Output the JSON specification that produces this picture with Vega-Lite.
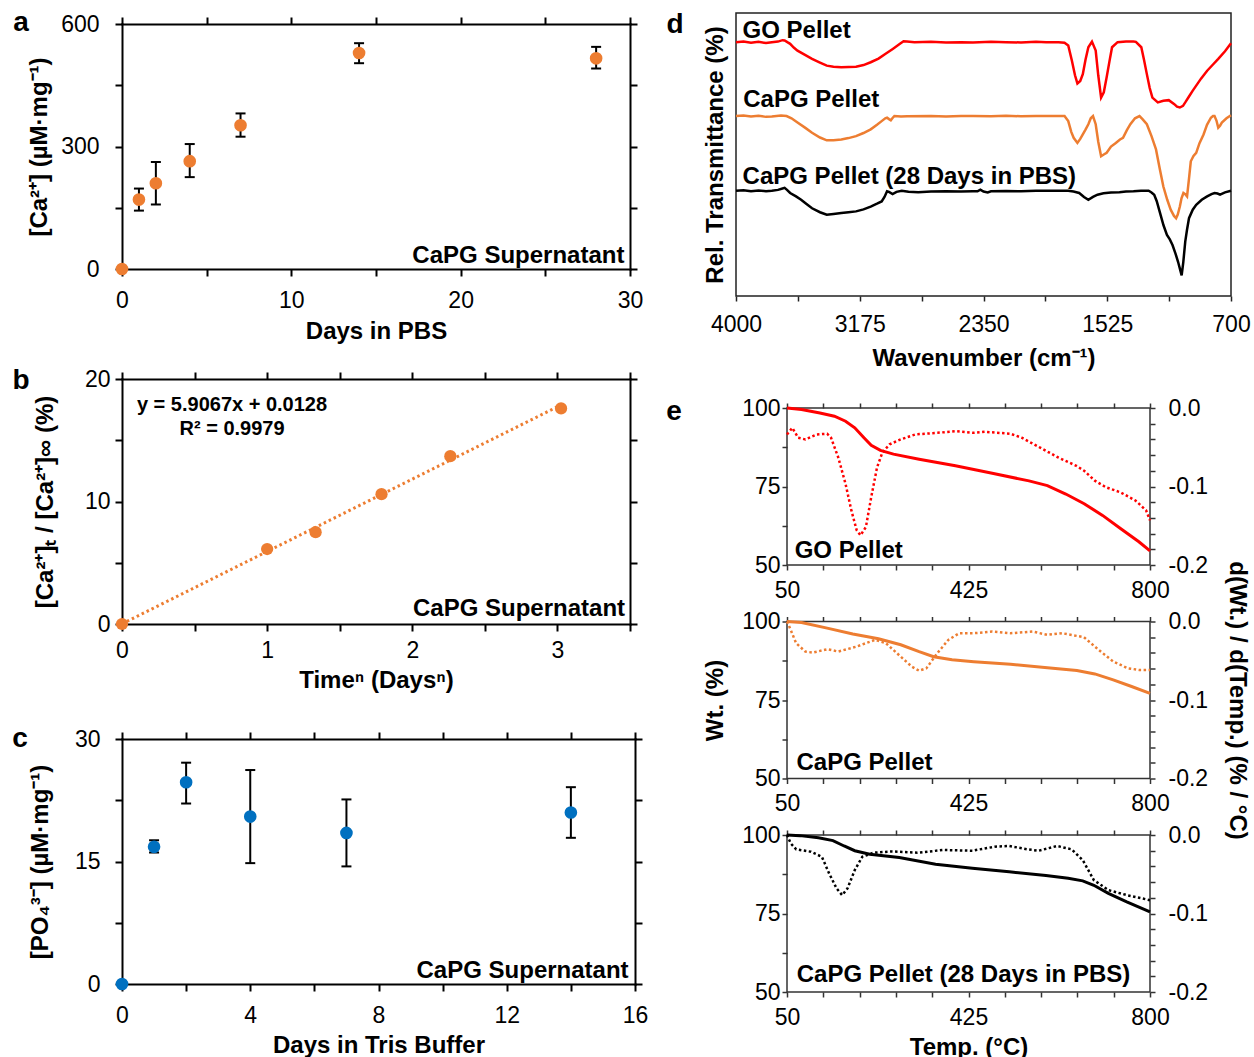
{
  "$schema": "https://vega.github.io/schema/vega-lite/v6.json",
  "padding": {"left": 12, "top": 9, "right": 0, "bottom": 0},
  "background": "white",
  "config": {
    "font": "Liberation Sans",
    "view": {"stroke": null},
    "axis": {
      "labelFont": "Liberation Sans", "labelFontSize": 23, "labelColor": "#000000",
      "titleFont": "Liberation Sans", "titleFontSize": 24, "titleFontWeight": "bold", "titleColor": "#000000",
      "grid": false, "domainColor": "#000000", "domainWidth": 2, "domainCap": "square",
      "tickColor": "#000000", "tickWidth": 2, "tickSize": 7,
      "labelFlush": false, "labelOverlap": false, "labelBound": false
    },
    "text": {"font": "Liberation Sans", "color": "#000000"}
  },
  "datasets": {
    "calcium": [
      {"day": 0, "ca": 0, "lo": null, "hi": null},
      {"day": 1, "ca": 170, "lo": 143, "hi": 197},
      {"day": 2, "ca": 210, "lo": 158, "hi": 262},
      {"day": 4, "ca": 264, "lo": 225, "hi": 306},
      {"day": 7, "ca": 352, "lo": 324, "hi": 381},
      {"day": 14, "ca": 529, "lo": 504, "hi": 553},
      {"day": 28, "ca": 516, "lo": 491, "hi": 544}
    ],
    "release": [
      {"tn": 0, "frac": 0},
      {"tn": 1.0, "frac": 6.12},
      {"tn": 1.334, "frac": 7.5},
      {"tn": 1.788, "frac": 10.6},
      {"tn": 2.262, "frac": 13.7},
      {"tn": 3.025, "frac": 17.6}
    ],
    "releaseFit": [
      {"tn": 0, "frac": 0.0128},
      {"tn": 3.03, "frac": 17.91}
    ],
    "phosphate": [
      {"day": 0, "po4": 0, "lo": null, "hi": null},
      {"day": 1, "po4": 16.8, "lo": 16.1, "hi": 17.6},
      {"day": 2, "po4": 24.7, "lo": 22.1, "hi": 27.1},
      {"day": 4, "po4": 20.5, "lo": 14.8, "hi": 26.2},
      {"day": 7, "po4": 18.5, "lo": 14.4, "hi": 22.6},
      {"day": 14, "po4": 21.0, "lo": 17.9, "hi": 24.1}
    ],
    "ftir": [
      {"sample": "GO Pellet", "wn": 4000, "t": 89.7}, {"sample": "GO Pellet", "wn": 3950, "t": 89.9}, {"sample": "GO Pellet", "wn": 3900, "t": 89.5}, {"sample": "GO Pellet", "wn": 3850, "t": 89.8}, {"sample": "GO Pellet", "wn": 3800, "t": 89.4}, {"sample": "GO Pellet", "wn": 3761, "t": 89.7}, {"sample": "GO Pellet", "wn": 3720, "t": 89.9}, {"sample": "GO Pellet", "wn": 3690, "t": 90.4}, {"sample": "GO Pellet", "wn": 3676, "t": 90.3}, {"sample": "GO Pellet", "wn": 3655, "t": 89.6}, {"sample": "GO Pellet", "wn": 3639, "t": 89.1}, {"sample": "GO Pellet", "wn": 3615, "t": 87.8}, {"sample": "GO Pellet", "wn": 3590, "t": 86.7}, {"sample": "GO Pellet", "wn": 3540, "t": 85.2}, {"sample": "GO Pellet", "wn": 3493, "t": 83.8}, {"sample": "GO Pellet", "wn": 3440, "t": 82.5}, {"sample": "GO Pellet", "wn": 3395, "t": 81.4}, {"sample": "GO Pellet", "wn": 3350, "t": 81.0}, {"sample": "GO Pellet", "wn": 3298, "t": 80.8}, {"sample": "GO Pellet", "wn": 3250, "t": 80.9}, {"sample": "GO Pellet", "wn": 3200, "t": 81.0}, {"sample": "GO Pellet", "wn": 3150, "t": 81.6}, {"sample": "GO Pellet", "wn": 3102, "t": 82.6}, {"sample": "GO Pellet", "wn": 3050, "t": 83.9}, {"sample": "GO Pellet", "wn": 3005, "t": 85.5}, {"sample": "GO Pellet", "wn": 2955, "t": 87.3}, {"sample": "GO Pellet", "wn": 2907, "t": 89.1}, {"sample": "GO Pellet", "wn": 2883, "t": 90.0}, {"sample": "GO Pellet", "wn": 2860, "t": 89.9}, {"sample": "GO Pellet", "wn": 2810, "t": 89.7}, {"sample": "GO Pellet", "wn": 2700, "t": 89.8}, {"sample": "GO Pellet", "wn": 2600, "t": 89.6}, {"sample": "GO Pellet", "wn": 2500, "t": 89.7}, {"sample": "GO Pellet", "wn": 2420, "t": 89.6}, {"sample": "GO Pellet", "wn": 2300, "t": 89.8}, {"sample": "GO Pellet", "wn": 2200, "t": 89.7}, {"sample": "GO Pellet", "wn": 2100, "t": 89.6}, {"sample": "GO Pellet", "wn": 2000, "t": 89.8}, {"sample": "GO Pellet", "wn": 1932, "t": 89.7}, {"sample": "GO Pellet", "wn": 1850, "t": 89.7}, {"sample": "GO Pellet", "wn": 1810, "t": 89.5}, {"sample": "GO Pellet", "wn": 1785, "t": 88.5}, {"sample": "GO Pellet", "wn": 1761, "t": 83.2}, {"sample": "GO Pellet", "wn": 1740, "t": 78.0}, {"sample": "GO Pellet", "wn": 1724, "t": 75.1}, {"sample": "GO Pellet", "wn": 1705, "t": 76.0}, {"sample": "GO Pellet", "wn": 1688, "t": 78.4}, {"sample": "GO Pellet", "wn": 1670, "t": 83.5}, {"sample": "GO Pellet", "wn": 1651, "t": 87.9}, {"sample": "GO Pellet", "wn": 1627, "t": 89.9}, {"sample": "GO Pellet", "wn": 1602, "t": 86.7}, {"sample": "GO Pellet", "wn": 1585, "t": 78.0}, {"sample": "GO Pellet", "wn": 1566, "t": 70.1}, {"sample": "GO Pellet", "wn": 1548, "t": 72.0}, {"sample": "GO Pellet", "wn": 1529, "t": 77.3}, {"sample": "GO Pellet", "wn": 1510, "t": 83.0}, {"sample": "GO Pellet", "wn": 1493, "t": 87.9}, {"sample": "GO Pellet", "wn": 1456, "t": 89.7}, {"sample": "GO Pellet", "wn": 1400, "t": 89.9}, {"sample": "GO Pellet", "wn": 1350, "t": 89.9}, {"sample": "GO Pellet", "wn": 1334, "t": 89.8}, {"sample": "GO Pellet", "wn": 1298, "t": 87.9}, {"sample": "GO Pellet", "wn": 1280, "t": 83.5}, {"sample": "GO Pellet", "wn": 1261, "t": 78.4}, {"sample": "GO Pellet", "wn": 1242, "t": 73.5}, {"sample": "GO Pellet", "wn": 1224, "t": 70.1}, {"sample": "GO Pellet", "wn": 1188, "t": 68.4}, {"sample": "GO Pellet", "wn": 1151, "t": 69.0}, {"sample": "GO Pellet", "wn": 1115, "t": 69.2}, {"sample": "GO Pellet", "wn": 1078, "t": 67.8}, {"sample": "GO Pellet", "wn": 1060, "t": 66.9}, {"sample": "GO Pellet", "wn": 1041, "t": 66.6}, {"sample": "GO Pellet", "wn": 1020, "t": 67.2}, {"sample": "GO Pellet", "wn": 1005, "t": 68.4}, {"sample": "GO Pellet", "wn": 980, "t": 70.5}, {"sample": "GO Pellet", "wn": 956, "t": 72.5}, {"sample": "GO Pellet", "wn": 900, "t": 76.8}, {"sample": "GO Pellet", "wn": 859, "t": 79.6}, {"sample": "GO Pellet", "wn": 820, "t": 81.8}, {"sample": "GO Pellet", "wn": 785, "t": 83.8}, {"sample": "GO Pellet", "wn": 740, "t": 86.5}, {"sample": "GO Pellet", "wn": 700, "t": 89.3},
      {"sample": "CaPG Pellet", "wn": 4000, "t": 63.6}, {"sample": "CaPG Pellet", "wn": 3950, "t": 63.8}, {"sample": "CaPG Pellet", "wn": 3900, "t": 63.4}, {"sample": "CaPG Pellet", "wn": 3850, "t": 63.7}, {"sample": "CaPG Pellet", "wn": 3800, "t": 63.3}, {"sample": "CaPG Pellet", "wn": 3761, "t": 63.4}, {"sample": "CaPG Pellet", "wn": 3700, "t": 63.8}, {"sample": "CaPG Pellet", "wn": 3663, "t": 63.6}, {"sample": "CaPG Pellet", "wn": 3630, "t": 62.8}, {"sample": "CaPG Pellet", "wn": 3590, "t": 61.3}, {"sample": "CaPG Pellet", "wn": 3540, "t": 59.5}, {"sample": "CaPG Pellet", "wn": 3493, "t": 57.7}, {"sample": "CaPG Pellet", "wn": 3440, "t": 56.0}, {"sample": "CaPG Pellet", "wn": 3395, "t": 55.0}, {"sample": "CaPG Pellet", "wn": 3350, "t": 55.0}, {"sample": "CaPG Pellet", "wn": 3298, "t": 55.3}, {"sample": "CaPG Pellet", "wn": 3250, "t": 55.8}, {"sample": "CaPG Pellet", "wn": 3200, "t": 56.5}, {"sample": "CaPG Pellet", "wn": 3150, "t": 57.6}, {"sample": "CaPG Pellet", "wn": 3102, "t": 58.9}, {"sample": "CaPG Pellet", "wn": 3060, "t": 60.5}, {"sample": "CaPG Pellet", "wn": 3029, "t": 61.8}, {"sample": "CaPG Pellet", "wn": 3005, "t": 62.8}, {"sample": "CaPG Pellet", "wn": 2993, "t": 63.0}, {"sample": "CaPG Pellet", "wn": 2980, "t": 62.5}, {"sample": "CaPG Pellet", "wn": 2968, "t": 62.1}, {"sample": "CaPG Pellet", "wn": 2955, "t": 63.0}, {"sample": "CaPG Pellet", "wn": 2944, "t": 63.6}, {"sample": "CaPG Pellet", "wn": 2900, "t": 63.4}, {"sample": "CaPG Pellet", "wn": 2859, "t": 63.5}, {"sample": "CaPG Pellet", "wn": 2700, "t": 63.6}, {"sample": "CaPG Pellet", "wn": 2600, "t": 63.4}, {"sample": "CaPG Pellet", "wn": 2500, "t": 63.6}, {"sample": "CaPG Pellet", "wn": 2420, "t": 63.6}, {"sample": "CaPG Pellet", "wn": 2300, "t": 63.5}, {"sample": "CaPG Pellet", "wn": 2200, "t": 63.7}, {"sample": "CaPG Pellet", "wn": 2100, "t": 63.5}, {"sample": "CaPG Pellet", "wn": 2000, "t": 63.6}, {"sample": "CaPG Pellet", "wn": 1900, "t": 63.6}, {"sample": "CaPG Pellet", "wn": 1810, "t": 63.6}, {"sample": "CaPG Pellet", "wn": 1785, "t": 61.8}, {"sample": "CaPG Pellet", "wn": 1765, "t": 58.0}, {"sample": "CaPG Pellet", "wn": 1749, "t": 55.9}, {"sample": "CaPG Pellet", "wn": 1724, "t": 54.1}, {"sample": "CaPG Pellet", "wn": 1705, "t": 55.5}, {"sample": "CaPG Pellet", "wn": 1688, "t": 57.1}, {"sample": "CaPG Pellet", "wn": 1670, "t": 58.8}, {"sample": "CaPG Pellet", "wn": 1651, "t": 60.7}, {"sample": "CaPG Pellet", "wn": 1635, "t": 62.8}, {"sample": "CaPG Pellet", "wn": 1620, "t": 63.6}, {"sample": "CaPG Pellet", "wn": 1602, "t": 60.7}, {"sample": "CaPG Pellet", "wn": 1585, "t": 54.5}, {"sample": "CaPG Pellet", "wn": 1566, "t": 49.4}, {"sample": "CaPG Pellet", "wn": 1548, "t": 50.0}, {"sample": "CaPG Pellet", "wn": 1529, "t": 50.6}, {"sample": "CaPG Pellet", "wn": 1500, "t": 52.8}, {"sample": "CaPG Pellet", "wn": 1468, "t": 54.1}, {"sample": "CaPG Pellet", "wn": 1440, "t": 55.3}, {"sample": "CaPG Pellet", "wn": 1420, "t": 55.9}, {"sample": "CaPG Pellet", "wn": 1395, "t": 58.5}, {"sample": "CaPG Pellet", "wn": 1371, "t": 60.7}, {"sample": "CaPG Pellet", "wn": 1340, "t": 62.8}, {"sample": "CaPG Pellet", "wn": 1310, "t": 63.6}, {"sample": "CaPG Pellet", "wn": 1290, "t": 62.5}, {"sample": "CaPG Pellet", "wn": 1261, "t": 60.7}, {"sample": "CaPG Pellet", "wn": 1230, "t": 56.5}, {"sample": "CaPG Pellet", "wn": 1200, "t": 51.8}, {"sample": "CaPG Pellet", "wn": 1175, "t": 45.0}, {"sample": "CaPG Pellet", "wn": 1151, "t": 38.7}, {"sample": "CaPG Pellet", "wn": 1125, "t": 34.0}, {"sample": "CaPG Pellet", "wn": 1102, "t": 30.5}, {"sample": "CaPG Pellet", "wn": 1080, "t": 28.3}, {"sample": "CaPG Pellet", "wn": 1066, "t": 27.5}, {"sample": "CaPG Pellet", "wn": 1055, "t": 28.8}, {"sample": "CaPG Pellet", "wn": 1041, "t": 31.6}, {"sample": "CaPG Pellet", "wn": 1030, "t": 34.5}, {"sample": "CaPG Pellet", "wn": 1017, "t": 36.4}, {"sample": "CaPG Pellet", "wn": 1005, "t": 36.0}, {"sample": "CaPG Pellet", "wn": 993, "t": 35.2}, {"sample": "CaPG Pellet", "wn": 980, "t": 41.5}, {"sample": "CaPG Pellet", "wn": 968, "t": 47.6}, {"sample": "CaPG Pellet", "wn": 950, "t": 49.5}, {"sample": "CaPG Pellet", "wn": 932, "t": 50.6}, {"sample": "CaPG Pellet", "wn": 910, "t": 54.0}, {"sample": "CaPG Pellet", "wn": 883, "t": 57.1}, {"sample": "CaPG Pellet", "wn": 860, "t": 60.5}, {"sample": "CaPG Pellet", "wn": 834, "t": 63.0}, {"sample": "CaPG Pellet", "wn": 820, "t": 63.6}, {"sample": "CaPG Pellet", "wn": 810, "t": 63.6}, {"sample": "CaPG Pellet", "wn": 797, "t": 62.0}, {"sample": "CaPG Pellet", "wn": 785, "t": 59.5}, {"sample": "CaPG Pellet", "wn": 773, "t": 60.2}, {"sample": "CaPG Pellet", "wn": 761, "t": 61.3}, {"sample": "CaPG Pellet", "wn": 730, "t": 62.8}, {"sample": "CaPG Pellet", "wn": 700, "t": 63.9},
      {"sample": "CaPG Pellet (28 Days in PBS)", "wn": 4000, "t": 37.2}, {"sample": "CaPG Pellet (28 Days in PBS)", "wn": 3950, "t": 37.4}, {"sample": "CaPG Pellet (28 Days in PBS)", "wn": 3900, "t": 37.0}, {"sample": "CaPG Pellet (28 Days in PBS)", "wn": 3850, "t": 37.3}, {"sample": "CaPG Pellet (28 Days in PBS)", "wn": 3800, "t": 37.0}, {"sample": "CaPG Pellet (28 Days in PBS)", "wn": 3761, "t": 37.2}, {"sample": "CaPG Pellet (28 Days in PBS)", "wn": 3720, "t": 37.5}, {"sample": "CaPG Pellet (28 Days in PBS)", "wn": 3690, "t": 38.0}, {"sample": "CaPG Pellet (28 Days in PBS)", "wn": 3676, "t": 38.2}, {"sample": "CaPG Pellet (28 Days in PBS)", "wn": 3660, "t": 37.5}, {"sample": "CaPG Pellet (28 Days in PBS)", "wn": 3639, "t": 36.4}, {"sample": "CaPG Pellet (28 Days in PBS)", "wn": 3600, "t": 35.2}, {"sample": "CaPG Pellet (28 Days in PBS)", "wn": 3566, "t": 34.0}, {"sample": "CaPG Pellet (28 Days in PBS)", "wn": 3530, "t": 32.5}, {"sample": "CaPG Pellet (28 Days in PBS)", "wn": 3493, "t": 31.0}, {"sample": "CaPG Pellet (28 Days in PBS)", "wn": 3440, "t": 29.6}, {"sample": "CaPG Pellet (28 Days in PBS)", "wn": 3395, "t": 28.7}, {"sample": "CaPG Pellet (28 Days in PBS)", "wn": 3350, "t": 29.0}, {"sample": "CaPG Pellet (28 Days in PBS)", "wn": 3298, "t": 29.3}, {"sample": "CaPG Pellet (28 Days in PBS)", "wn": 3250, "t": 29.6}, {"sample": "CaPG Pellet (28 Days in PBS)", "wn": 3200, "t": 29.9}, {"sample": "CaPG Pellet (28 Days in PBS)", "wn": 3150, "t": 30.6}, {"sample": "CaPG Pellet (28 Days in PBS)", "wn": 3102, "t": 31.6}, {"sample": "CaPG Pellet (28 Days in PBS)", "wn": 3060, "t": 32.6}, {"sample": "CaPG Pellet (28 Days in PBS)", "wn": 3029, "t": 33.4}, {"sample": "CaPG Pellet (28 Days in PBS)", "wn": 3010, "t": 35.0}, {"sample": "CaPG Pellet (28 Days in PBS)", "wn": 2993, "t": 37.0}, {"sample": "CaPG Pellet (28 Days in PBS)", "wn": 2980, "t": 36.8}, {"sample": "CaPG Pellet (28 Days in PBS)", "wn": 2956, "t": 36.0}, {"sample": "CaPG Pellet (28 Days in PBS)", "wn": 2930, "t": 36.8}, {"sample": "CaPG Pellet (28 Days in PBS)", "wn": 2895, "t": 37.2}, {"sample": "CaPG Pellet (28 Days in PBS)", "wn": 2850, "t": 36.8}, {"sample": "CaPG Pellet (28 Days in PBS)", "wn": 2785, "t": 36.7}, {"sample": "CaPG Pellet (28 Days in PBS)", "wn": 2700, "t": 36.9}, {"sample": "CaPG Pellet (28 Days in PBS)", "wn": 2600, "t": 37.0}, {"sample": "CaPG Pellet (28 Days in PBS)", "wn": 2500, "t": 36.9}, {"sample": "CaPG Pellet (28 Days in PBS)", "wn": 2420, "t": 37.0}, {"sample": "CaPG Pellet (28 Days in PBS)", "wn": 2390, "t": 37.0}, {"sample": "CaPG Pellet (28 Days in PBS)", "wn": 2371, "t": 37.6}, {"sample": "CaPG Pellet (28 Days in PBS)", "wn": 2350, "t": 36.9}, {"sample": "CaPG Pellet (28 Days in PBS)", "wn": 2322, "t": 36.6}, {"sample": "CaPG Pellet (28 Days in PBS)", "wn": 2300, "t": 37.0}, {"sample": "CaPG Pellet (28 Days in PBS)", "wn": 2200, "t": 37.1}, {"sample": "CaPG Pellet (28 Days in PBS)", "wn": 2100, "t": 37.0}, {"sample": "CaPG Pellet (28 Days in PBS)", "wn": 2000, "t": 37.2}, {"sample": "CaPG Pellet (28 Days in PBS)", "wn": 1900, "t": 37.2}, {"sample": "CaPG Pellet (28 Days in PBS)", "wn": 1785, "t": 37.2}, {"sample": "CaPG Pellet (28 Days in PBS)", "wn": 1750, "t": 36.9}, {"sample": "CaPG Pellet (28 Days in PBS)", "wn": 1712, "t": 36.4}, {"sample": "CaPG Pellet (28 Days in PBS)", "wn": 1680, "t": 35.0}, {"sample": "CaPG Pellet (28 Days in PBS)", "wn": 1651, "t": 34.0}, {"sample": "CaPG Pellet (28 Days in PBS)", "wn": 1620, "t": 35.0}, {"sample": "CaPG Pellet (28 Days in PBS)", "wn": 1590, "t": 35.8}, {"sample": "CaPG Pellet (28 Days in PBS)", "wn": 1550, "t": 36.3}, {"sample": "CaPG Pellet (28 Days in PBS)", "wn": 1500, "t": 36.6}, {"sample": "CaPG Pellet (28 Days in PBS)", "wn": 1444, "t": 36.7}, {"sample": "CaPG Pellet (28 Days in PBS)", "wn": 1400, "t": 36.9}, {"sample": "CaPG Pellet (28 Days in PBS)", "wn": 1350, "t": 37.0}, {"sample": "CaPG Pellet (28 Days in PBS)", "wn": 1300, "t": 37.2}, {"sample": "CaPG Pellet (28 Days in PBS)", "wn": 1249, "t": 37.2}, {"sample": "CaPG Pellet (28 Days in PBS)", "wn": 1230, "t": 36.6}, {"sample": "CaPG Pellet (28 Days in PBS)", "wn": 1212, "t": 35.8}, {"sample": "CaPG Pellet (28 Days in PBS)", "wn": 1195, "t": 33.5}, {"sample": "CaPG Pellet (28 Days in PBS)", "wn": 1176, "t": 29.9}, {"sample": "CaPG Pellet (28 Days in PBS)", "wn": 1150, "t": 25.0}, {"sample": "CaPG Pellet (28 Days in PBS)", "wn": 1127, "t": 21.6}, {"sample": "CaPG Pellet (28 Days in PBS)", "wn": 1108, "t": 20.0}, {"sample": "CaPG Pellet (28 Days in PBS)", "wn": 1090, "t": 18.0}, {"sample": "CaPG Pellet (28 Days in PBS)", "wn": 1070, "t": 15.0}, {"sample": "CaPG Pellet (28 Days in PBS)", "wn": 1053, "t": 12.1}, {"sample": "CaPG Pellet (28 Days in PBS)", "wn": 1040, "t": 9.5}, {"sample": "CaPG Pellet (28 Days in PBS)", "wn": 1029, "t": 7.3}, {"sample": "CaPG Pellet (28 Days in PBS)", "wn": 1018, "t": 12.0}, {"sample": "CaPG Pellet (28 Days in PBS)", "wn": 1005, "t": 19.2}, {"sample": "CaPG Pellet (28 Days in PBS)", "wn": 993, "t": 23.5}, {"sample": "CaPG Pellet (28 Days in PBS)", "wn": 980, "t": 27.5}, {"sample": "CaPG Pellet (28 Days in PBS)", "wn": 955, "t": 30.5}, {"sample": "CaPG Pellet (28 Days in PBS)", "wn": 932, "t": 32.2}, {"sample": "CaPG Pellet (28 Days in PBS)", "wn": 895, "t": 34.0}, {"sample": "CaPG Pellet (28 Days in PBS)", "wn": 859, "t": 35.2}, {"sample": "CaPG Pellet (28 Days in PBS)", "wn": 830, "t": 36.0}, {"sample": "CaPG Pellet (28 Days in PBS)", "wn": 810, "t": 36.4}, {"sample": "CaPG Pellet (28 Days in PBS)", "wn": 790, "t": 36.2}, {"sample": "CaPG Pellet (28 Days in PBS)", "wn": 773, "t": 35.8}, {"sample": "CaPG Pellet (28 Days in PBS)", "wn": 740, "t": 36.6}, {"sample": "CaPG Pellet (28 Days in PBS)", "wn": 700, "t": 37.2}
    ],
    "tgaWt": [
      {"sample": "GO Pellet", "temp": 50, "wt": 100}, {"sample": "GO Pellet", "temp": 80, "wt": 99.5}, {"sample": "GO Pellet", "temp": 118, "wt": 98.4}, {"sample": "GO Pellet", "temp": 148, "wt": 97.4}, {"sample": "GO Pellet", "temp": 171, "wt": 95.8}, {"sample": "GO Pellet", "temp": 190, "wt": 93.7}, {"sample": "GO Pellet", "temp": 209, "wt": 90.5}, {"sample": "GO Pellet", "temp": 224, "wt": 88.1}, {"sample": "GO Pellet", "temp": 243, "wt": 86.5}, {"sample": "GO Pellet", "temp": 270, "wt": 85.3}, {"sample": "GO Pellet", "temp": 323, "wt": 83.7}, {"sample": "GO Pellet", "temp": 398, "wt": 81.6}, {"sample": "GO Pellet", "temp": 474, "wt": 79.2}, {"sample": "GO Pellet", "temp": 550, "wt": 76.8}, {"sample": "GO Pellet", "temp": 588, "wt": 75.3}, {"sample": "GO Pellet", "temp": 626, "wt": 72.6}, {"sample": "GO Pellet", "temp": 664, "wt": 69.5}, {"sample": "GO Pellet", "temp": 702, "wt": 65.8}, {"sample": "GO Pellet", "temp": 739, "wt": 61.6}, {"sample": "GO Pellet", "temp": 777, "wt": 57.4}, {"sample": "GO Pellet", "temp": 800, "wt": 54.5},
      {"sample": "CaPG Pellet", "temp": 50, "wt": 100}, {"sample": "CaPG Pellet", "temp": 80, "wt": 99.7}, {"sample": "CaPG Pellet", "temp": 133, "wt": 97.9}, {"sample": "CaPG Pellet", "temp": 186, "wt": 96.0}, {"sample": "CaPG Pellet", "temp": 239, "wt": 94.5}, {"sample": "CaPG Pellet", "temp": 285, "wt": 92.6}, {"sample": "CaPG Pellet", "temp": 323, "wt": 90.4}, {"sample": "CaPG Pellet", "temp": 353, "wt": 88.8}, {"sample": "CaPG Pellet", "temp": 391, "wt": 87.8}, {"sample": "CaPG Pellet", "temp": 436, "wt": 87.2}, {"sample": "CaPG Pellet", "temp": 512, "wt": 86.4}, {"sample": "CaPG Pellet", "temp": 588, "wt": 85.3}, {"sample": "CaPG Pellet", "temp": 649, "wt": 84.4}, {"sample": "CaPG Pellet", "temp": 686, "wt": 83.3}, {"sample": "CaPG Pellet", "temp": 724, "wt": 81.4}, {"sample": "CaPG Pellet", "temp": 762, "wt": 79.3}, {"sample": "CaPG Pellet", "temp": 800, "wt": 77.1},
      {"sample": "CaPG Pellet (28 Days in PBS)", "temp": 50, "wt": 100}, {"sample": "CaPG Pellet (28 Days in PBS)", "temp": 77, "wt": 99.8}, {"sample": "CaPG Pellet (28 Days in PBS)", "temp": 115, "wt": 99.1}, {"sample": "CaPG Pellet (28 Days in PBS)", "temp": 145, "wt": 98.2}, {"sample": "CaPG Pellet (28 Days in PBS)", "temp": 168, "wt": 96.5}, {"sample": "CaPG Pellet (28 Days in PBS)", "temp": 190, "wt": 95.0}, {"sample": "CaPG Pellet (28 Days in PBS)", "temp": 221, "wt": 93.9}, {"sample": "CaPG Pellet (28 Days in PBS)", "temp": 282, "wt": 92.8}, {"sample": "CaPG Pellet (28 Days in PBS)", "temp": 357, "wt": 90.7}, {"sample": "CaPG Pellet (28 Days in PBS)", "temp": 433, "wt": 89.4}, {"sample": "CaPG Pellet (28 Days in PBS)", "temp": 509, "wt": 88.3}, {"sample": "CaPG Pellet (28 Days in PBS)", "temp": 585, "wt": 87.1}, {"sample": "CaPG Pellet (28 Days in PBS)", "temp": 631, "wt": 86.2}, {"sample": "CaPG Pellet (28 Days in PBS)", "temp": 661, "wt": 85.4}, {"sample": "CaPG Pellet (28 Days in PBS)", "temp": 684, "wt": 84.0}, {"sample": "CaPG Pellet (28 Days in PBS)", "temp": 714, "wt": 81.4}, {"sample": "CaPG Pellet (28 Days in PBS)", "temp": 752, "wt": 78.7}, {"sample": "CaPG Pellet (28 Days in PBS)", "temp": 800, "wt": 75.5}
    ],
    "tgaDeriv": [
      {"sample": "GO Pellet", "temp": 50, "dw": -0.0337}, {"sample": "GO Pellet", "temp": 61, "dw": -0.0253}, {"sample": "GO Pellet", "temp": 73, "dw": -0.0379}, {"sample": "GO Pellet", "temp": 88, "dw": -0.04}, {"sample": "GO Pellet", "temp": 111, "dw": -0.0337}, {"sample": "GO Pellet", "temp": 133, "dw": -0.0328}, {"sample": "GO Pellet", "temp": 141, "dw": -0.0379}, {"sample": "GO Pellet", "temp": 156, "dw": -0.0632}, {"sample": "GO Pellet", "temp": 171, "dw": -0.0968}, {"sample": "GO Pellet", "temp": 183, "dw": -0.1305}, {"sample": "GO Pellet", "temp": 194, "dw": -0.1558}, {"sample": "GO Pellet", "temp": 202, "dw": -0.1621}, {"sample": "GO Pellet", "temp": 213, "dw": -0.1516}, {"sample": "GO Pellet", "temp": 224, "dw": -0.1137}, {"sample": "GO Pellet", "temp": 236, "dw": -0.0758}, {"sample": "GO Pellet", "temp": 247, "dw": -0.0568}, {"sample": "GO Pellet", "temp": 262, "dw": -0.0463}, {"sample": "GO Pellet", "temp": 285, "dw": -0.04}, {"sample": "GO Pellet", "temp": 315, "dw": -0.0337}, {"sample": "GO Pellet", "temp": 361, "dw": -0.0316}, {"sample": "GO Pellet", "temp": 398, "dw": -0.0295}, {"sample": "GO Pellet", "temp": 436, "dw": -0.0316}, {"sample": "GO Pellet", "temp": 459, "dw": -0.0303}, {"sample": "GO Pellet", "temp": 512, "dw": -0.0328}, {"sample": "GO Pellet", "temp": 535, "dw": -0.0379}, {"sample": "GO Pellet", "temp": 573, "dw": -0.0505}, {"sample": "GO Pellet", "temp": 611, "dw": -0.0632}, {"sample": "GO Pellet", "temp": 648, "dw": -0.0737}, {"sample": "GO Pellet", "temp": 664, "dw": -0.08}, {"sample": "GO Pellet", "temp": 686, "dw": -0.0926}, {"sample": "GO Pellet", "temp": 709, "dw": -0.101}, {"sample": "GO Pellet", "temp": 739, "dw": -0.1074}, {"sample": "GO Pellet", "temp": 770, "dw": -0.1179}, {"sample": "GO Pellet", "temp": 792, "dw": -0.1305}, {"sample": "GO Pellet", "temp": 800, "dw": -0.1432},
      {"sample": "CaPG Pellet", "temp": 50, "dw": 0}, {"sample": "CaPG Pellet", "temp": 57.6, "dw": -0.0106}, {"sample": "CaPG Pellet", "temp": 68.9, "dw": -0.0277}, {"sample": "CaPG Pellet", "temp": 87.9, "dw": -0.0383}, {"sample": "CaPG Pellet", "temp": 103, "dw": -0.0396}, {"sample": "CaPG Pellet", "temp": 133.3, "dw": -0.0353}, {"sample": "CaPG Pellet", "temp": 156, "dw": -0.0383}, {"sample": "CaPG Pellet", "temp": 194, "dw": -0.0319}, {"sample": "CaPG Pellet", "temp": 231.8, "dw": -0.0234}, {"sample": "CaPG Pellet", "temp": 254.5, "dw": -0.0277}, {"sample": "CaPG Pellet", "temp": 284.9, "dw": -0.0447}, {"sample": "CaPG Pellet", "temp": 307.6, "dw": -0.0574}, {"sample": "CaPG Pellet", "temp": 322.7, "dw": -0.0626}, {"sample": "CaPG Pellet", "temp": 337.9, "dw": -0.0596}, {"sample": "CaPG Pellet", "temp": 360.6, "dw": -0.0404}, {"sample": "CaPG Pellet", "temp": 383.3, "dw": -0.0234}, {"sample": "CaPG Pellet", "temp": 406, "dw": -0.0149}, {"sample": "CaPG Pellet", "temp": 436.4, "dw": -0.0149}, {"sample": "CaPG Pellet", "temp": 474.2, "dw": -0.0128}, {"sample": "CaPG Pellet", "temp": 512.1, "dw": -0.0149}, {"sample": "CaPG Pellet", "temp": 557.6, "dw": -0.0128}, {"sample": "CaPG Pellet", "temp": 587.9, "dw": -0.017}, {"sample": "CaPG Pellet", "temp": 618.2, "dw": -0.0149}, {"sample": "CaPG Pellet", "temp": 663.6, "dw": -0.02}, {"sample": "CaPG Pellet", "temp": 694, "dw": -0.0362}, {"sample": "CaPG Pellet", "temp": 724.3, "dw": -0.0511}, {"sample": "CaPG Pellet", "temp": 754.5, "dw": -0.0596}, {"sample": "CaPG Pellet", "temp": 777.3, "dw": -0.0617}, {"sample": "CaPG Pellet", "temp": 800, "dw": -0.0617},
      {"sample": "CaPG Pellet (28 Days in PBS)", "temp": 50, "dw": 0}, {"sample": "CaPG Pellet (28 Days in PBS)", "temp": 57.6, "dw": -0.0106}, {"sample": "CaPG Pellet (28 Days in PBS)", "temp": 69, "dw": -0.0183}, {"sample": "CaPG Pellet (28 Days in PBS)", "temp": 99.3, "dw": -0.0213}, {"sample": "CaPG Pellet (28 Days in PBS)", "temp": 122, "dw": -0.0277}, {"sample": "CaPG Pellet (28 Days in PBS)", "temp": 137, "dw": -0.0489}, {"sample": "CaPG Pellet (28 Days in PBS)", "temp": 152.5, "dw": -0.0681}, {"sample": "CaPG Pellet (28 Days in PBS)", "temp": 164, "dw": -0.0766}, {"sample": "CaPG Pellet (28 Days in PBS)", "temp": 175, "dw": -0.0681}, {"sample": "CaPG Pellet (28 Days in PBS)", "temp": 190, "dw": -0.0447}, {"sample": "CaPG Pellet (28 Days in PBS)", "temp": 205.6, "dw": -0.0277}, {"sample": "CaPG Pellet (28 Days in PBS)", "temp": 228.4, "dw": -0.0226}, {"sample": "CaPG Pellet (28 Days in PBS)", "temp": 266, "dw": -0.0209}, {"sample": "CaPG Pellet (28 Days in PBS)", "temp": 319.5, "dw": -0.0226}, {"sample": "CaPG Pellet (28 Days in PBS)", "temp": 372.6, "dw": -0.0191}, {"sample": "CaPG Pellet (28 Days in PBS)", "temp": 433.3, "dw": -0.02}, {"sample": "CaPG Pellet (28 Days in PBS)", "temp": 478.9, "dw": -0.0149}, {"sample": "CaPG Pellet (28 Days in PBS)", "temp": 509.3, "dw": -0.014}, {"sample": "CaPG Pellet (28 Days in PBS)", "temp": 547.2, "dw": -0.0183}, {"sample": "CaPG Pellet (28 Days in PBS)", "temp": 570, "dw": -0.02}, {"sample": "CaPG Pellet (28 Days in PBS)", "temp": 608, "dw": -0.014}, {"sample": "CaPG Pellet (28 Days in PBS)", "temp": 638.3, "dw": -0.0183}, {"sample": "CaPG Pellet (28 Days in PBS)", "temp": 661, "dw": -0.0319}, {"sample": "CaPG Pellet (28 Days in PBS)", "temp": 683.9, "dw": -0.0574}, {"sample": "CaPG Pellet (28 Days in PBS)", "temp": 714.2, "dw": -0.0702}, {"sample": "CaPG Pellet (28 Days in PBS)", "temp": 752.2, "dw": -0.0766}, {"sample": "CaPG Pellet (28 Days in PBS)", "temp": 800, "dw": -0.083}
    ]
  },
  "hconcat": [
    {
      "vconcat": [
        {"width": 1, "height": 1, "data": {"values": []}, "mark": "point"},
        {
          "vconcat": [
            {
              "width": 508, "height": 245,
              "data": {"name": "calcium"},
              "layer": [
                {
                  "mark": {"type": "point", "opacity": 0},
                  "encoding": {
                    "x": {"field": "day", "type": "quantitative", "scale": {"domain": [0, 30], "nice": false}, "axis": {"orient": "top", "values": [0, 5, 10, 15, 20, 25, 30], "labels": false, "title": null}},
                    "y": {"field": "ca", "type": "quantitative", "scale": {"domain": [0, 600], "nice": false}, "axis": {"orient": "right", "values": [0, 150, 300, 450, 600], "labels": false, "title": null}}
                  }
                },
                {
                  "transform": [{"filter": "isValid(datum.lo)"}],
                  "mark": {"type": "rule", "color": "#000000", "strokeWidth": 2},
                  "encoding": {
                    "x": {"field": "day", "type": "quantitative", "scale": {"domain": [0, 30], "nice": false}, "axis": null},
                    "y": {"field": "lo", "type": "quantitative", "scale": {"domain": [0, 600], "nice": false}, "axis": null},
                    "y2": {"field": "hi"}
                  }
                },
                {
                  "transform": [{"filter": "isValid(datum.lo)"}],
                  "mark": {"type": "tick", "orient": "horizontal", "size": 10, "thickness": 2, "color": "#000000", "opacity": 1},
                  "encoding": {
                    "x": {"field": "day", "type": "quantitative", "scale": {"domain": [0, 30], "nice": false}, "axis": null},
                    "y": {"field": "lo", "type": "quantitative", "scale": {"domain": [0, 600], "nice": false}, "axis": null}
                  }
                },
                {
                  "transform": [{"filter": "isValid(datum.hi)"}],
                  "mark": {"type": "tick", "orient": "horizontal", "size": 10, "thickness": 2, "color": "#000000", "opacity": 1},
                  "encoding": {
                    "x": {"field": "day", "type": "quantitative", "scale": {"domain": [0, 30], "nice": false}, "axis": null},
                    "y": {"field": "hi", "type": "quantitative", "scale": {"domain": [0, 600], "nice": false}, "axis": null}
                  }
                },
                {
                  "mark": {"type": "circle", "size": 160, "color": "#ED7D31", "opacity": 1},
                  "encoding": {
                    "x": {"field": "day", "type": "quantitative", "scale": {"domain": [0, 30], "nice": false}, "axis": {"orient": "bottom", "values": [0, 5, 10, 15, 20, 25, 30], "labelExpr": "datum.value % 10 === 0 ? datum.label : ''", "labelPadding": 13, "title": "Days in PBS", "titlePadding": 7}},
                    "y": {"field": "ca", "type": "quantitative", "scale": {"domain": [0, 600], "nice": false}, "axis": {"orient": "left", "values": [0, 150, 300, 450, 600], "labelExpr": "datum.value % 300 === 0 ? datum.label : ''", "labelPadding": 16, "title": "[Ca²⁺] (µM·mg⁻¹)", "titlePadding": 9}}
                  }
                },
                {
                  "data": {"values": [{}]},
                  "mark": {"type": "text", "align": "right", "baseline": "middle", "fontSize": 24, "fontWeight": "bold"},
                  "encoding": {
                    "x": {"datum": 29.67, "type": "quantitative", "scale": {"domain": [0, 30], "nice": false}, "axis": null},
                    "y": {"datum": 30.9, "type": "quantitative", "scale": {"domain": [0, 600], "nice": false}, "axis": null},
                    "text": {"value": "CaPG Supernatant"}
                  }
                },
                {
                  "data": {"values": [{}]},
                  "mark": {"type": "text", "align": "center", "baseline": "middle", "fontSize": 28, "fontWeight": "bold"},
                  "encoding": {
                    "x": {"datum": -5.96, "type": "quantitative", "scale": {"domain": [0, 30], "nice": false}, "axis": null},
                    "y": {"datum": 602, "type": "quantitative", "scale": {"domain": [0, 600], "nice": false}, "axis": null},
                    "text": {"value": "a"}
                  }
                }
              ],
              "resolve": {"axis": {"x": "independent", "y": "independent"}}
            },
            {
              "vconcat": [
                {
                  "width": 508, "height": 245,
                  "data": {"name": "release"},
                  "layer": [
                    {
                      "mark": {"type": "point", "opacity": 0},
                      "encoding": {
                        "x": {"field": "tn", "type": "quantitative", "scale": {"domain": [0, 3.5], "nice": false}, "axis": {"orient": "top", "values": [0, 0.5, 1, 1.5, 2, 2.5, 3, 3.5], "labels": false, "title": null}},
                        "y": {"field": "frac", "type": "quantitative", "scale": {"domain": [0, 20], "nice": false}, "axis": {"orient": "right", "values": [0, 5, 10, 15, 20], "labels": false, "title": null}}
                      }
                    },
                    {
                      "data": {"name": "releaseFit"},
                      "mark": {"type": "line", "color": "#ED7D31", "strokeWidth": 3, "strokeDash": [2.5, 3]},
                      "encoding": {
                        "x": {"field": "tn", "type": "quantitative", "scale": {"domain": [0, 3.5], "nice": false}, "axis": null},
                        "y": {"field": "frac", "type": "quantitative", "scale": {"domain": [0, 20], "nice": false}, "axis": null}
                      }
                    },
                    {
                      "mark": {"type": "circle", "size": 150, "color": "#ED7D31", "opacity": 1},
                      "encoding": {
                        "x": {"field": "tn", "type": "quantitative", "scale": {"domain": [0, 3.5], "nice": false}, "axis": {"orient": "bottom", "values": [0, 0.5, 1, 1.5, 2, 2.5, 3, 3.5], "labelExpr": "datum.value % 1 === 0 ? format(datum.value, 'd') : ''", "labelPadding": 8, "title": "Timeⁿ (Daysⁿ)", "titlePadding": 6}},
                        "y": {"field": "frac", "type": "quantitative", "scale": {"domain": [0, 20], "nice": false}, "axis": {"orient": "left", "values": [0, 5, 10, 15, 20], "labelExpr": "datum.value % 10 === 0 ? datum.label : ''", "labelPadding": 5, "title": "[Ca²⁺]ₜ / [Ca²⁺]∞ (%)", "titlePadding": 27}}
                      }
                    },
                    {
                      "data": {"values": [{}]},
                      "mark": {"type": "text", "align": "center", "baseline": "middle", "fontSize": 20, "fontWeight": "bold"},
                      "encoding": {
                        "x": {"datum": 0.758, "type": "quantitative", "scale": {"domain": [0, 3.5], "nice": false}, "axis": null},
                        "y": {"datum": 17.84, "type": "quantitative", "scale": {"domain": [0, 20], "nice": false}, "axis": null},
                        "text": {"value": "y = 5.9067x + 0.0128"}
                      }
                    },
                    {
                      "data": {"values": [{}]},
                      "mark": {"type": "text", "align": "center", "baseline": "middle", "fontSize": 20, "fontWeight": "bold"},
                      "encoding": {
                        "x": {"datum": 0.758, "type": "quantitative", "scale": {"domain": [0, 3.5], "nice": false}, "axis": null},
                        "y": {"datum": 15.9, "type": "quantitative", "scale": {"domain": [0, 20], "nice": false}, "axis": null},
                        "text": {"value": "R² = 0.9979"}
                      }
                    },
                    {
                      "data": {"values": [{}]},
                      "mark": {"type": "text", "align": "right", "baseline": "middle", "fontSize": 24, "fontWeight": "bold"},
                      "encoding": {
                        "x": {"datum": 3.466, "type": "quantitative", "scale": {"domain": [0, 3.5], "nice": false}, "axis": null},
                        "y": {"datum": 1.19, "type": "quantitative", "scale": {"domain": [0, 20], "nice": false}, "axis": null},
                        "text": {"value": "CaPG Supernatant"}
                      }
                    },
                    {
                      "data": {"values": [{}]},
                      "mark": {"type": "text", "align": "center", "baseline": "middle", "fontSize": 28, "fontWeight": "bold"},
                      "encoding": {
                        "x": {"datum": -0.696, "type": "quantitative", "scale": {"domain": [0, 3.5], "nice": false}, "axis": null},
                        "y": {"datum": 19.87, "type": "quantitative", "scale": {"domain": [0, 20], "nice": false}, "axis": null},
                        "text": {"value": "b"}
                      }
                    }
                  ],
                  "resolve": {"axis": {"x": "independent", "y": "independent"}}
                },
                {
                  "width": 513, "height": 245,
                  "data": {"name": "phosphate"},
                  "layer": [
                    {
                      "mark": {"type": "point", "opacity": 0},
                      "encoding": {
                        "x": {"field": "day", "type": "quantitative", "scale": {"domain": [0, 16], "nice": false}, "axis": {"orient": "top", "values": [0, 2, 4, 6, 8, 10, 12, 14, 16], "labels": false, "title": null}},
                        "y": {"field": "po4", "type": "quantitative", "scale": {"domain": [0, 30], "nice": false}, "axis": {"orient": "right", "values": [0, 7.5, 15, 22.5, 30], "labels": false, "title": null}}
                      }
                    },
                    {
                      "transform": [{"filter": "isValid(datum.lo)"}],
                      "mark": {"type": "rule", "color": "#000000", "strokeWidth": 2},
                      "encoding": {
                        "x": {"field": "day", "type": "quantitative", "scale": {"domain": [0, 16], "nice": false}, "axis": null},
                        "y": {"field": "lo", "type": "quantitative", "scale": {"domain": [0, 30], "nice": false}, "axis": null},
                        "y2": {"field": "hi"}
                      }
                    },
                    {
                      "transform": [{"filter": "isValid(datum.lo)"}],
                      "mark": {"type": "tick", "orient": "horizontal", "size": 10, "thickness": 2, "color": "#000000", "opacity": 1},
                      "encoding": {
                        "x": {"field": "day", "type": "quantitative", "scale": {"domain": [0, 16], "nice": false}, "axis": null},
                        "y": {"field": "lo", "type": "quantitative", "scale": {"domain": [0, 30], "nice": false}, "axis": null}
                      }
                    },
                    {
                      "transform": [{"filter": "isValid(datum.hi)"}],
                      "mark": {"type": "tick", "orient": "horizontal", "size": 10, "thickness": 2, "color": "#000000", "opacity": 1},
                      "encoding": {
                        "x": {"field": "day", "type": "quantitative", "scale": {"domain": [0, 16], "nice": false}, "axis": null},
                        "y": {"field": "hi", "type": "quantitative", "scale": {"domain": [0, 30], "nice": false}, "axis": null}
                      }
                    },
                    {
                      "mark": {"type": "circle", "size": 160, "color": "#0070C0", "opacity": 1},
                      "encoding": {
                        "x": {"field": "day", "type": "quantitative", "scale": {"domain": [0, 16], "nice": false}, "axis": {"orient": "bottom", "values": [0, 2, 4, 6, 8, 10, 12, 14, 16], "labelExpr": "datum.value % 4 === 0 ? datum.label : ''", "labelPadding": 13, "title": "Days in Tris Buffer", "titlePadding": 6}},
                        "y": {"field": "po4", "type": "quantitative", "scale": {"domain": [0, 30], "nice": false}, "axis": {"orient": "left", "values": [0, 7.5, 15, 22.5, 30], "labelExpr": "datum.value % 15 === 0 ? datum.label : ''", "labelPadding": 15, "title": "[PO₄³⁻] (µM·mg⁻¹)", "titlePadding": 22}}
                      }
                    },
                    {
                      "data": {"values": [{}]},
                      "mark": {"type": "text", "align": "right", "baseline": "middle", "fontSize": 24, "fontWeight": "bold"},
                      "encoding": {
                        "x": {"datum": 15.8, "type": "quantitative", "scale": {"domain": [0, 16], "nice": false}, "axis": null},
                        "y": {"datum": 1.54, "type": "quantitative", "scale": {"domain": [0, 30], "nice": false}, "axis": null},
                        "text": {"value": "CaPG Supernatant"}
                      }
                    },
                    {
                      "data": {"values": [{}]},
                      "mark": {"type": "text", "align": "center", "baseline": "middle", "fontSize": 28, "fontWeight": "bold"},
                      "encoding": {
                        "x": {"datum": -3.18, "type": "quantitative", "scale": {"domain": [0, 16], "nice": false}, "axis": null},
                        "y": {"datum": 30, "type": "quantitative", "scale": {"domain": [0, 30], "nice": false}, "axis": null},
                        "text": {"value": "c"}
                      }
                    }
                  ],
                  "resolve": {"axis": {"x": "independent", "y": "independent"}}
                }
              ],
              "spacing": 115,
              "bounds": "flush"
            }
          ],
          "spacing": 110,
          "bounds": "flush"
        }
      ],
      "spacing": 10,
      "bounds": "flush"
    },
    {
      "vconcat": [
        {
          "width": 495, "height": 283,
          "view": {"stroke": "#222222", "strokeWidth": 1.5},
          "layer": [
            {
              "data": {"name": "ftir"},
              "mark": {"type": "line", "strokeWidth": 2.5},
              "encoding": {
                "x": {"field": "wn", "type": "quantitative", "scale": {"domain": [700, 4000], "reverse": true, "nice": false, "zero": false},
                  "axis": {"orient": "bottom", "values": [4000, 3587.5, 3175, 2762.5, 2350, 1937.5, 1525, 1112.5, 700], "labelExpr": "(4000 - datum.value) % 825 === 0 ? format(datum.value, 'd') : ''", "domain": false, "tickSize": 5, "tickWidth": 1.5, "tickColor": "#222222", "labelPadding": 12, "title": "Wavenumber (cm⁻¹)", "titlePadding": 10}},
                "y": {"field": "t", "type": "quantitative", "scale": {"domain": [0, 100], "nice": false, "zero": false},
                  "axis": {"orient": "left", "labels": false, "ticks": false, "domain": false, "title": "Rel. Transmittance (%)", "titlePadding": 9}},
                "color": {"field": "sample", "type": "nominal", "scale": {"domain": ["GO Pellet", "CaPG Pellet", "CaPG Pellet (28 Days in PBS)"], "range": ["#FF0000", "#ED7D31", "#000000"]}, "legend": null}
              }
            },
            {
              "data": {"values": [{}]},
              "mark": {"type": "text", "align": "left", "baseline": "middle", "fontSize": 24, "fontWeight": "bold"},
              "encoding": {
                "x": {"datum": 3956, "type": "quantitative", "scale": {"domain": [700, 4000], "reverse": true, "nice": false, "zero": false}, "axis": null},
                "y": {"datum": 93.7, "type": "quantitative", "scale": {"domain": [0, 100], "nice": false, "zero": false}, "axis": null},
                "text": {"value": "GO Pellet"}
              }
            },
            {
              "data": {"values": [{}]},
              "mark": {"type": "text", "align": "left", "baseline": "middle", "fontSize": 24, "fontWeight": "bold"},
              "encoding": {
                "x": {"datum": 3952, "type": "quantitative", "scale": {"domain": [700, 4000], "reverse": true, "nice": false, "zero": false}, "axis": null},
                "y": {"datum": 69.1, "type": "quantitative", "scale": {"domain": [0, 100], "nice": false, "zero": false}, "axis": null},
                "text": {"value": "CaPG Pellet"}
              }
            },
            {
              "data": {"values": [{}]},
              "mark": {"type": "text", "align": "left", "baseline": "middle", "fontSize": 24, "fontWeight": "bold"},
              "encoding": {
                "x": {"datum": 3956, "type": "quantitative", "scale": {"domain": [700, 4000], "reverse": true, "nice": false, "zero": false}, "axis": null},
                "y": {"datum": 42.1, "type": "quantitative", "scale": {"domain": [0, 100], "nice": false, "zero": false}, "axis": null},
                "text": {"value": "CaPG Pellet (28 Days in PBS)"}
              }
            },
            {
              "data": {"values": [{}]},
              "mark": {"type": "text", "align": "center", "baseline": "middle", "fontSize": 28, "fontWeight": "bold"},
              "encoding": {
                "x": {"datum": 4406, "type": "quantitative", "scale": {"domain": [700, 4000], "reverse": true, "nice": false, "zero": false}, "axis": null},
                "y": {"datum": 95.9, "type": "quantitative", "scale": {"domain": [0, 100], "nice": false, "zero": false}, "axis": null},
                "text": {"value": "d"}
              }
            }
          ],
          "resolve": {"axis": {"x": "independent", "y": "independent"}}
        },
        {
          "hconcat": [
            {"width": 1, "height": 1, "data": {"values": []}, "mark": "point"},
            {
              "vconcat": [
                {
                  "width": 363, "height": 157,
                  "view": {"stroke": "#333333", "strokeWidth": 1.5},
                  "layer": [
                    {
                      "layer": [
                        {
                          "data": {"name": "tgaWt"},
                          "transform": [{"filter": {"field": "sample", "equal": "GO Pellet"}}],
                          "mark": {"type": "line", "color": "#FF0000", "strokeWidth": 3},
                          "encoding": {
                            "x": {"field": "temp", "type": "quantitative", "scale": {"domain": [50, 800], "nice": false, "zero": false},
                              "axis": {"orient": "bottom", "values": [50, 125, 200, 275, 350, 425, 500, 575, 650, 725, 800], "labelExpr": "(datum.value - 50) % 375 === 0 ? datum.label : ''", "domain": false, "tickSize": 5, "tickWidth": 1.5, "tickColor": "#333333", "labelPadding": 9, "title": null}},
                            "y": {"field": "wt", "type": "quantitative", "scale": {"domain": [50, 100], "nice": false, "zero": false},
                              "axis": {"orient": "left", "values": [50, 62.5, 75, 87.5, 100], "labelExpr": "datum.value % 25 === 0 ? datum.label : ''", "domain": false, "tickSize": 5, "tickWidth": 1.5, "tickColor": "#333333", "labelPadding": 2, "title": null}}
                          }
                        },
                        {
                          "data": {"values": [{}]},
                          "mark": {"type": "text", "align": "left", "baseline": "middle", "fontSize": 24, "fontWeight": "bold"},
                          "encoding": {
                            "x": {"datum": 65.9, "type": "quantitative", "scale": {"domain": [50, 800], "nice": false, "zero": false}, "axis": null},
                            "y": {"datum": 54.6, "type": "quantitative", "scale": {"domain": [50, 100], "nice": false, "zero": false}, "axis": null},
                            "text": {"value": "GO Pellet"}
                          }
                        },
                        {
                          "data": {"values": [{}]},
                          "mark": {"type": "text", "align": "center", "baseline": "middle", "fontSize": 28, "fontWeight": "bold"},
                          "encoding": {
                            "x": {"datum": -183.5, "type": "quantitative", "scale": {"domain": [50, 800], "nice": false, "zero": false}, "axis": null},
                            "y": {"datum": 98.7, "type": "quantitative", "scale": {"domain": [50, 100], "nice": false, "zero": false}, "axis": null},
                            "text": {"value": "e"}
                          }
                        }
                      ],
                      "resolve": {"axis": {"x": "independent", "y": "independent"}}
                    },
                    {
                      "data": {"name": "tgaDeriv"},
                      "transform": [{"filter": {"field": "sample", "equal": "GO Pellet"}}],
                      "mark": {"type": "line", "color": "#FF0000", "strokeWidth": 2.5, "strokeDash": [2.5, 2.5]},
                      "encoding": {
                        "x": {"field": "temp", "type": "quantitative", "scale": {"domain": [50, 800], "nice": false, "zero": false},
                          "axis": {"orient": "top", "values": [50, 125, 200, 275, 350, 425, 500, 575, 650, 725, 800], "labels": false, "domain": false, "tickSize": 5, "tickWidth": 1.5, "tickColor": "#333333", "title": null}},
                        "y": {"field": "dw", "type": "quantitative", "scale": {"domain": [-0.2, 0], "nice": false, "zero": false},
                          "axis": {"orient": "right", "values": [0, -0.02, -0.04, -0.06, -0.08, -0.1, -0.12, -0.14, -0.16, -0.18, -0.2], "labelExpr": "abs(datum.value) < 1e-6 ? '0.0' : abs(datum.value + 0.1) < 1e-6 ? '-0.1' : abs(datum.value + 0.2) < 1e-6 ? '-0.2' : ''", "domain": false, "tickSize": 5, "tickWidth": 1.5, "tickColor": "#333333", "labelPadding": 13, "title": null}}
                      }
                    }
                  ],
                  "resolve": {"scale": {"y": "independent"}, "axis": {"x": "independent", "y": "independent"}}
                },
                {
                  "width": 363, "height": 157,
                  "view": {"stroke": "#333333", "strokeWidth": 1.5},
                  "layer": [
                    {
                      "layer": [
                        {
                          "data": {"name": "tgaWt"},
                          "transform": [{"filter": {"field": "sample", "equal": "CaPG Pellet"}}],
                          "mark": {"type": "line", "color": "#ED7D31", "strokeWidth": 3},
                          "encoding": {
                            "x": {"field": "temp", "type": "quantitative", "scale": {"domain": [50, 800], "nice": false, "zero": false},
                              "axis": {"orient": "bottom", "values": [50, 125, 200, 275, 350, 425, 500, 575, 650, 725, 800], "labelExpr": "(datum.value - 50) % 375 === 0 ? datum.label : ''", "domain": false, "tickSize": 5, "tickWidth": 1.5, "tickColor": "#333333", "labelPadding": 9, "title": null}},
                            "y": {"field": "wt", "type": "quantitative", "scale": {"domain": [50, 100], "nice": false, "zero": false},
                              "axis": {"orient": "left", "values": [50, 62.5, 75, 87.5, 100], "labelExpr": "datum.value % 25 === 0 ? datum.label : ''", "domain": false, "tickSize": 5, "tickWidth": 1.5, "tickColor": "#333333", "labelPadding": 2, "title": "Wt. (%)", "titlePadding": 14}}
                          }
                        },
                        {
                          "data": {"values": [{}]},
                          "mark": {"type": "text", "align": "left", "baseline": "middle", "fontSize": 24, "fontWeight": "bold"},
                          "encoding": {
                            "x": {"datum": 69.6, "type": "quantitative", "scale": {"domain": [50, 800], "nice": false, "zero": false}, "axis": null},
                            "y": {"datum": 54.8, "type": "quantitative", "scale": {"domain": [50, 100], "nice": false, "zero": false}, "axis": null},
                            "text": {"value": "CaPG Pellet"}
                          }
                        }
                      ],
                      "resolve": {"axis": {"x": "independent", "y": "independent"}}
                    },
                    {
                      "data": {"name": "tgaDeriv"},
                      "transform": [{"filter": {"field": "sample", "equal": "CaPG Pellet"}}],
                      "mark": {"type": "line", "color": "#ED7D31", "strokeWidth": 2.5, "strokeDash": [2.5, 2.5]},
                      "encoding": {
                        "x": {"field": "temp", "type": "quantitative", "scale": {"domain": [50, 800], "nice": false, "zero": false},
                          "axis": {"orient": "top", "values": [50, 125, 200, 275, 350, 425, 500, 575, 650, 725, 800], "labels": false, "domain": false, "tickSize": 5, "tickWidth": 1.5, "tickColor": "#333333", "title": null}},
                        "y": {"field": "dw", "type": "quantitative", "scale": {"domain": [-0.2, 0], "nice": false, "zero": false},
                          "axis": {"orient": "right", "values": [0, -0.02, -0.04, -0.06, -0.08, -0.1, -0.12, -0.14, -0.16, -0.18, -0.2], "labelExpr": "abs(datum.value) < 1e-6 ? '0.0' : abs(datum.value + 0.1) < 1e-6 ? '-0.1' : abs(datum.value + 0.2) < 1e-6 ? '-0.2' : ''", "domain": false, "tickSize": 5, "tickWidth": 1.5, "tickColor": "#333333", "labelPadding": 13, "title": "d(Wt.) / d(Temp.) (% / °C)", "titlePadding": 17}}
                      }
                    }
                  ],
                  "resolve": {"scale": {"y": "independent"}, "axis": {"x": "independent", "y": "independent"}}
                },
                {
                  "width": 363, "height": 157,
                  "view": {"stroke": "#333333", "strokeWidth": 1.5},
                  "layer": [
                    {
                      "layer": [
                        {
                          "data": {"name": "tgaWt"},
                          "transform": [{"filter": {"field": "sample", "equal": "CaPG Pellet (28 Days in PBS)"}}],
                          "mark": {"type": "line", "color": "#000000", "strokeWidth": 3},
                          "encoding": {
                            "x": {"field": "temp", "type": "quantitative", "scale": {"domain": [50, 800], "nice": false, "zero": false},
                              "axis": {"orient": "bottom", "values": [50, 125, 200, 275, 350, 425, 500, 575, 650, 725, 800], "labelExpr": "(datum.value - 50) % 375 === 0 ? datum.label : ''", "domain": false, "tickSize": 5, "tickWidth": 1.5, "tickColor": "#333333", "labelPadding": 9, "title": "Temp. (°C)", "titlePadding": 6}},
                            "y": {"field": "wt", "type": "quantitative", "scale": {"domain": [50, 100], "nice": false, "zero": false},
                              "axis": {"orient": "left", "values": [50, 62.5, 75, 87.5, 100], "labelExpr": "datum.value % 25 === 0 ? datum.label : ''", "domain": false, "tickSize": 5, "tickWidth": 1.5, "tickColor": "#333333", "labelPadding": 2, "title": null}}
                          }
                        },
                        {
                          "data": {"values": [{}]},
                          "mark": {"type": "text", "align": "left", "baseline": "middle", "fontSize": 24, "fontWeight": "bold"},
                          "encoding": {
                            "x": {"datum": 70.2, "type": "quantitative", "scale": {"domain": [50, 800], "nice": false, "zero": false}, "axis": null},
                            "y": {"datum": 55.3, "type": "quantitative", "scale": {"domain": [50, 100], "nice": false, "zero": false}, "axis": null},
                            "text": {"value": "CaPG Pellet (28 Days in PBS)"}
                          }
                        }
                      ],
                      "resolve": {"axis": {"x": "independent", "y": "independent"}}
                    },
                    {
                      "data": {"name": "tgaDeriv"},
                      "transform": [{"filter": {"field": "sample", "equal": "CaPG Pellet (28 Days in PBS)"}}],
                      "mark": {"type": "line", "color": "#000000", "strokeWidth": 2.5, "strokeDash": [2.5, 2.5]},
                      "encoding": {
                        "x": {"field": "temp", "type": "quantitative", "scale": {"domain": [50, 800], "nice": false, "zero": false},
                          "axis": {"orient": "top", "values": [50, 125, 200, 275, 350, 425, 500, 575, 650, 725, 800], "labels": false, "domain": false, "tickSize": 5, "tickWidth": 1.5, "tickColor": "#333333", "title": null}},
                        "y": {"field": "dw", "type": "quantitative", "scale": {"domain": [-0.2, 0], "nice": false, "zero": false},
                          "axis": {"orient": "right", "values": [0, -0.02, -0.04, -0.06, -0.08, -0.1, -0.12, -0.14, -0.16, -0.18, -0.2], "labelExpr": "abs(datum.value) < 1e-6 ? '0.0' : abs(datum.value + 0.1) < 1e-6 ? '-0.1' : abs(datum.value + 0.2) < 1e-6 ? '-0.2' : ''", "domain": false, "tickSize": 5, "tickWidth": 1.5, "tickColor": "#333333", "labelPadding": 13, "title": null}}
                      }
                    }
                  ],
                  "resolve": {"scale": {"y": "independent"}, "axis": {"x": "independent", "y": "independent"}}
                }
              ],
              "spacing": 56.5,
              "bounds": "flush"
            }
          ],
          "spacing": 50,
          "bounds": "flush"
        }
      ],
      "spacing": 25
    }
  ],
  "spacing": 17
}
